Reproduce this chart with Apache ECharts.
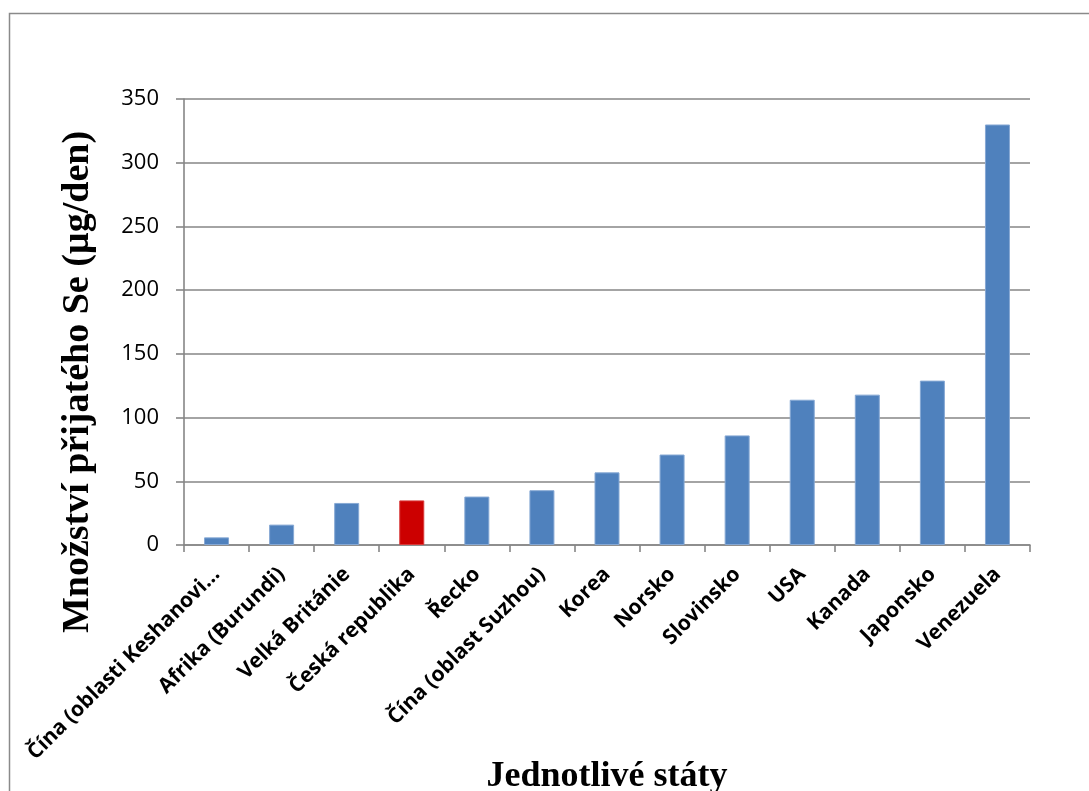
<!DOCTYPE html>
<html>
<head>
<meta charset="utf-8">
<script src="https://cdn.jsdelivr.net/npm/echarts@6/dist/echarts.min.js"></script>
<style>
  html, body { margin: 0; padding: 0; background: #ffffff; overflow: hidden; }
  #chart { width: 1089px; height: 791px; }
</style>
</head>
<body>
<div id="chart"></div>
<script>
// Daily selenium intake by country (µg/day)
const states = [
  'Čína (oblasti Keshanovi...',
  'Afrika (Burundi)',
  'Velká Británie',
  'Česká republika',
  'Řecko',
  'Čína (oblast Suzhou)',
  'Korea',
  'Norsko',
  'Slovinsko',
  'USA',
  'Kanada',
  'Japonsko',
  'Venezuela'
];
const intake = [6, 16, 33, 35, 38, 43, 57, 71, 86, 114, 118, 129, 330];
const highlighted = 'Česká republika';

const yTicks = { min: 0, max: 350, step: 50 };
const yTitle = 'Množství přijatého Se (µg/den)';
const xTitle = 'Jednotlivé státy';

const blue = '#4F81BD';
const red = '#CC0000';
const axisGray = '#868686';

const barData = intake.map((v, i) => ({
  value: v,
  itemStyle: {
    color: states[i] === highlighted ? red : blue,
    borderColor: states[i] === highlighted ? '#d83a3a' : '#86a8d4',
    borderWidth: 1
  }
}));

const chart = echarts.init(document.getElementById('chart'), null, { renderer: 'canvas' });

chart.setOption({
  animation: false,
  backgroundColor: '#ffffff',
  grid: {
    left: 184, right: 59, top: 99, bottom: 246,
    containLabel: false,
    outerBoundsMode: 'none'
  },
  xAxis: {
    type: 'category',
    data: states,
    boundaryGap: true,
    name: xTitle,
    nameLocation: 'middle',
    nameGap: 214,
    nameMoveOverlap: false,
    nameTextStyle: {
      fontFamily: 'Liberation Serif',
      fontWeight: 'bold',
      fontSize: 36,
      color: '#000000'
    },
    axisLine: { show: true, lineStyle: { color: axisGray, width: 1.6 } },
    axisTick: { show: true, inside: false, length: 7, alignWithLabel: false, lineStyle: { color: axisGray, width: 1.6 } },
    axisLabel: {
      interval: 0,
      rotate: 45,
      margin: 26,
      fontFamily: 'Open Sans',
      fontWeight: 'bold',
      fontSize: 21,
      color: '#000000'
    },
    splitLine: { show: false }
  },
  yAxis: {
    type: 'value',
    min: yTicks.min,
    max: yTicks.max,
    interval: yTicks.step,
    axisLine: { show: true, lineStyle: { color: axisGray, width: 1.6 } },
    axisTick: { show: true, inside: false, length: 8, lineStyle: { color: axisGray, width: 1.6 } },
    axisLabel: {
      margin: 25,
      fontFamily: 'Open Sans',
      fontSize: 22,
      color: '#000000'
    },
    splitLine: { show: true, lineStyle: { color: axisGray, width: 1.6 } }
  },
  series: [{
    type: 'bar',
    data: barData,
    barWidth: 25
  }],
  graphic: [
    {
      type: 'rect',
      silent: true,
      z: -1,
      shape: { x: 9.5, y: 13.5, width: 1200, height: 1000 },
      style: { fill: 'none', stroke: '#8a8a8a', lineWidth: 1.5 }
    },
    {
      type: 'text',
      silent: true,
      x: 78,
      y: 382,
      rotation: Math.PI / 2,
      style: {
        text: yTitle,
        fontFamily: 'Liberation Serif',
        fontWeight: 'bold',
        fontSize: 38,
        fill: '#000000',
        textAlign: 'center',
        textVerticalAlign: 'middle'
      }
    }
  ]
});
</script>
</body>
</html>
